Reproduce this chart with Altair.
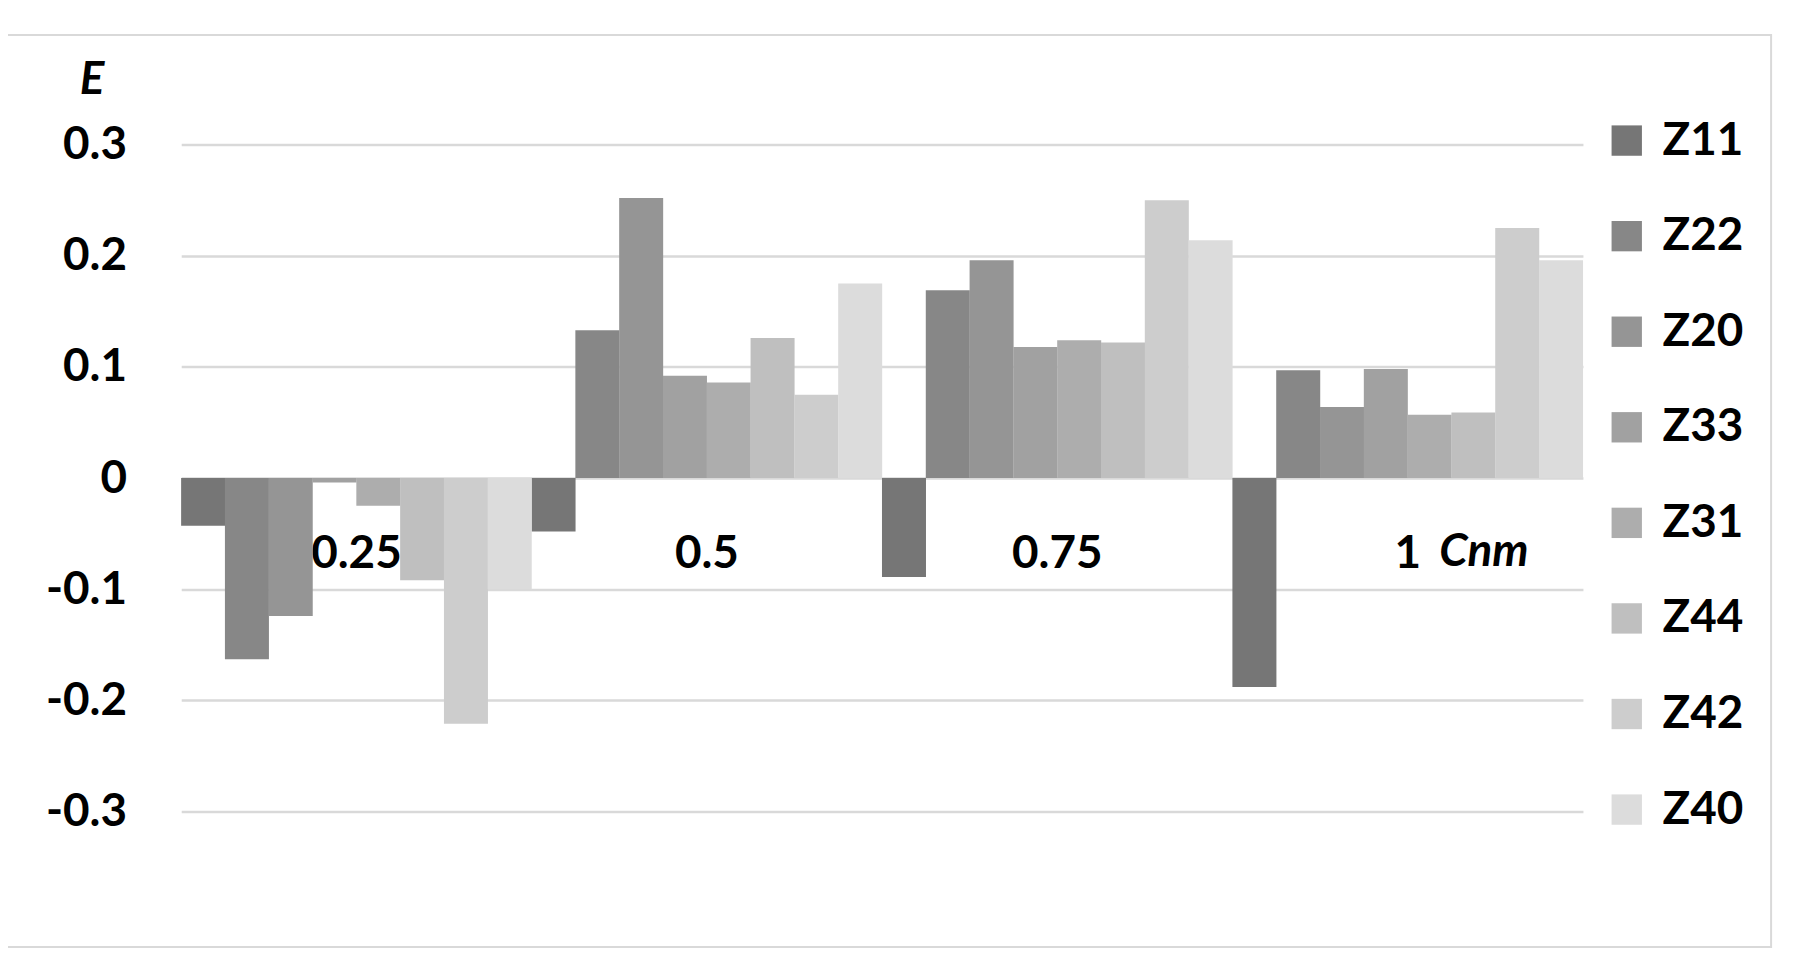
import altair as alt
import pandas as pd

categories = ["0.25", "0.5", "0.75", "1"]
series = ["Z11", "Z22", "Z20", "Z33", "Z31", "Z44", "Z42", "Z40"]
colors = ["#767676", "#878787", "#959595", "#a1a1a1", "#adadad", "#bfbfbf", "#cdcdcd", "#dcdcdc"]

values = {
    "Z11": [-0.043, -0.048, -0.089, -0.188],
    "Z22": [-0.163, 0.133, 0.169, 0.097],
    "Z20": [-0.124, 0.252, 0.196, 0.064],
    "Z33": [-0.004, 0.092, 0.118, 0.098],
    "Z31": [-0.025, 0.086, 0.124, 0.057],
    "Z44": [-0.092, 0.126, 0.122, 0.059],
    "Z42": [-0.221, 0.075, 0.250, 0.225],
    "Z40": [-0.100, 0.175, 0.214, 0.196],
}

rows = []
for s in series:
    for c, v in zip(categories, values[s]):
        rows.append({"C": c, "series": s, "E": v})
df = pd.DataFrame(rows)

FONT = "Lato"
W, H = 1408, 670

bars = alt.Chart(df).mark_bar(size=44.2).encode(
    x=alt.X("C:N", sort=categories, scale=alt.Scale(paddingInner=0, paddingOuter=0),
            axis=alt.Axis(orient="bottom", offset=-335, domain=False, ticks=False, grid=False,
                          labelAngle=0, labelFont=FONT, labelFontSize=46, labelFontWeight="bold",
                          labelColor="#000000", labelBaseline="middle", labelPadding=76,
                          title="Cnm", titleFont=FONT, titleFontSize=46, titleFontWeight="bold",
                          titleFontStyle="italic", titleColor="#000000", titleX=1308, titleY=74,
                          titleAlign="center", titleBaseline="middle")),
    xOffset=alt.XOffset("series:N", sort=series, scale=alt.Scale(paddingInner=0, paddingOuter=0)),
    y=alt.Y("E:Q", scale=alt.Scale(domain=[-0.3, 0.3], nice=False),
            axis=alt.Axis(values=[-0.3, -0.2, -0.1, 0, 0.1, 0.2, 0.3], domain=False, ticks=False,
                          grid=True, gridColor="#d9d9d9", gridWidth=2.5,
                          labelExpr="replace(format(datum.value, '.1~f'), '\u2212', '-')",
                          labelFont=FONT, labelFontSize=46, labelFontWeight="bold",
                          labelColor="#000000", labelPadding=55,
                          title="E", titleFont=FONT, titleFontSize=46, titleFontWeight="bold",
                          titleFontStyle="italic", titleColor="#000000", titleAngle=0,
                          titleX=-90, titleY=-65, titleAlign="center", titleBaseline="middle")),
    color=alt.Color("series:N", sort=series, scale=alt.Scale(domain=series, range=colors),
                    legend=alt.Legend(orient="none", legendX=1429, legendY=-27, title=None,
                                      symbolType="square", symbolSize=930, symbolStrokeWidth=0,
                                      labelFont=FONT, labelFontSize=46, labelFontWeight="bold",
                                      labelColor="#000000", labelOffset=13, rowPadding=50,
                                      padding=0)),
)

frame = alt.Chart(pd.DataFrame({"k": [0]})).mark_rect(filled=False, stroke="#d9d9d9", strokeWidth=2).encode(
    x=alt.value(-175), x2=alt.value(1597), y=alt.value(-110), y2=alt.value(806)
)

chart = alt.layer(frame, bars).properties(
    width=W, height=H,
    background="#ffffff",
    autosize=alt.AutoSizeParams(type="none"),
    padding={"left": 174, "top": 135, "right": 211, "bottom": 164},
).configure_view(stroke=None)

chart.save("out.html", embed_options={"renderer": "svg", "actions": False})
